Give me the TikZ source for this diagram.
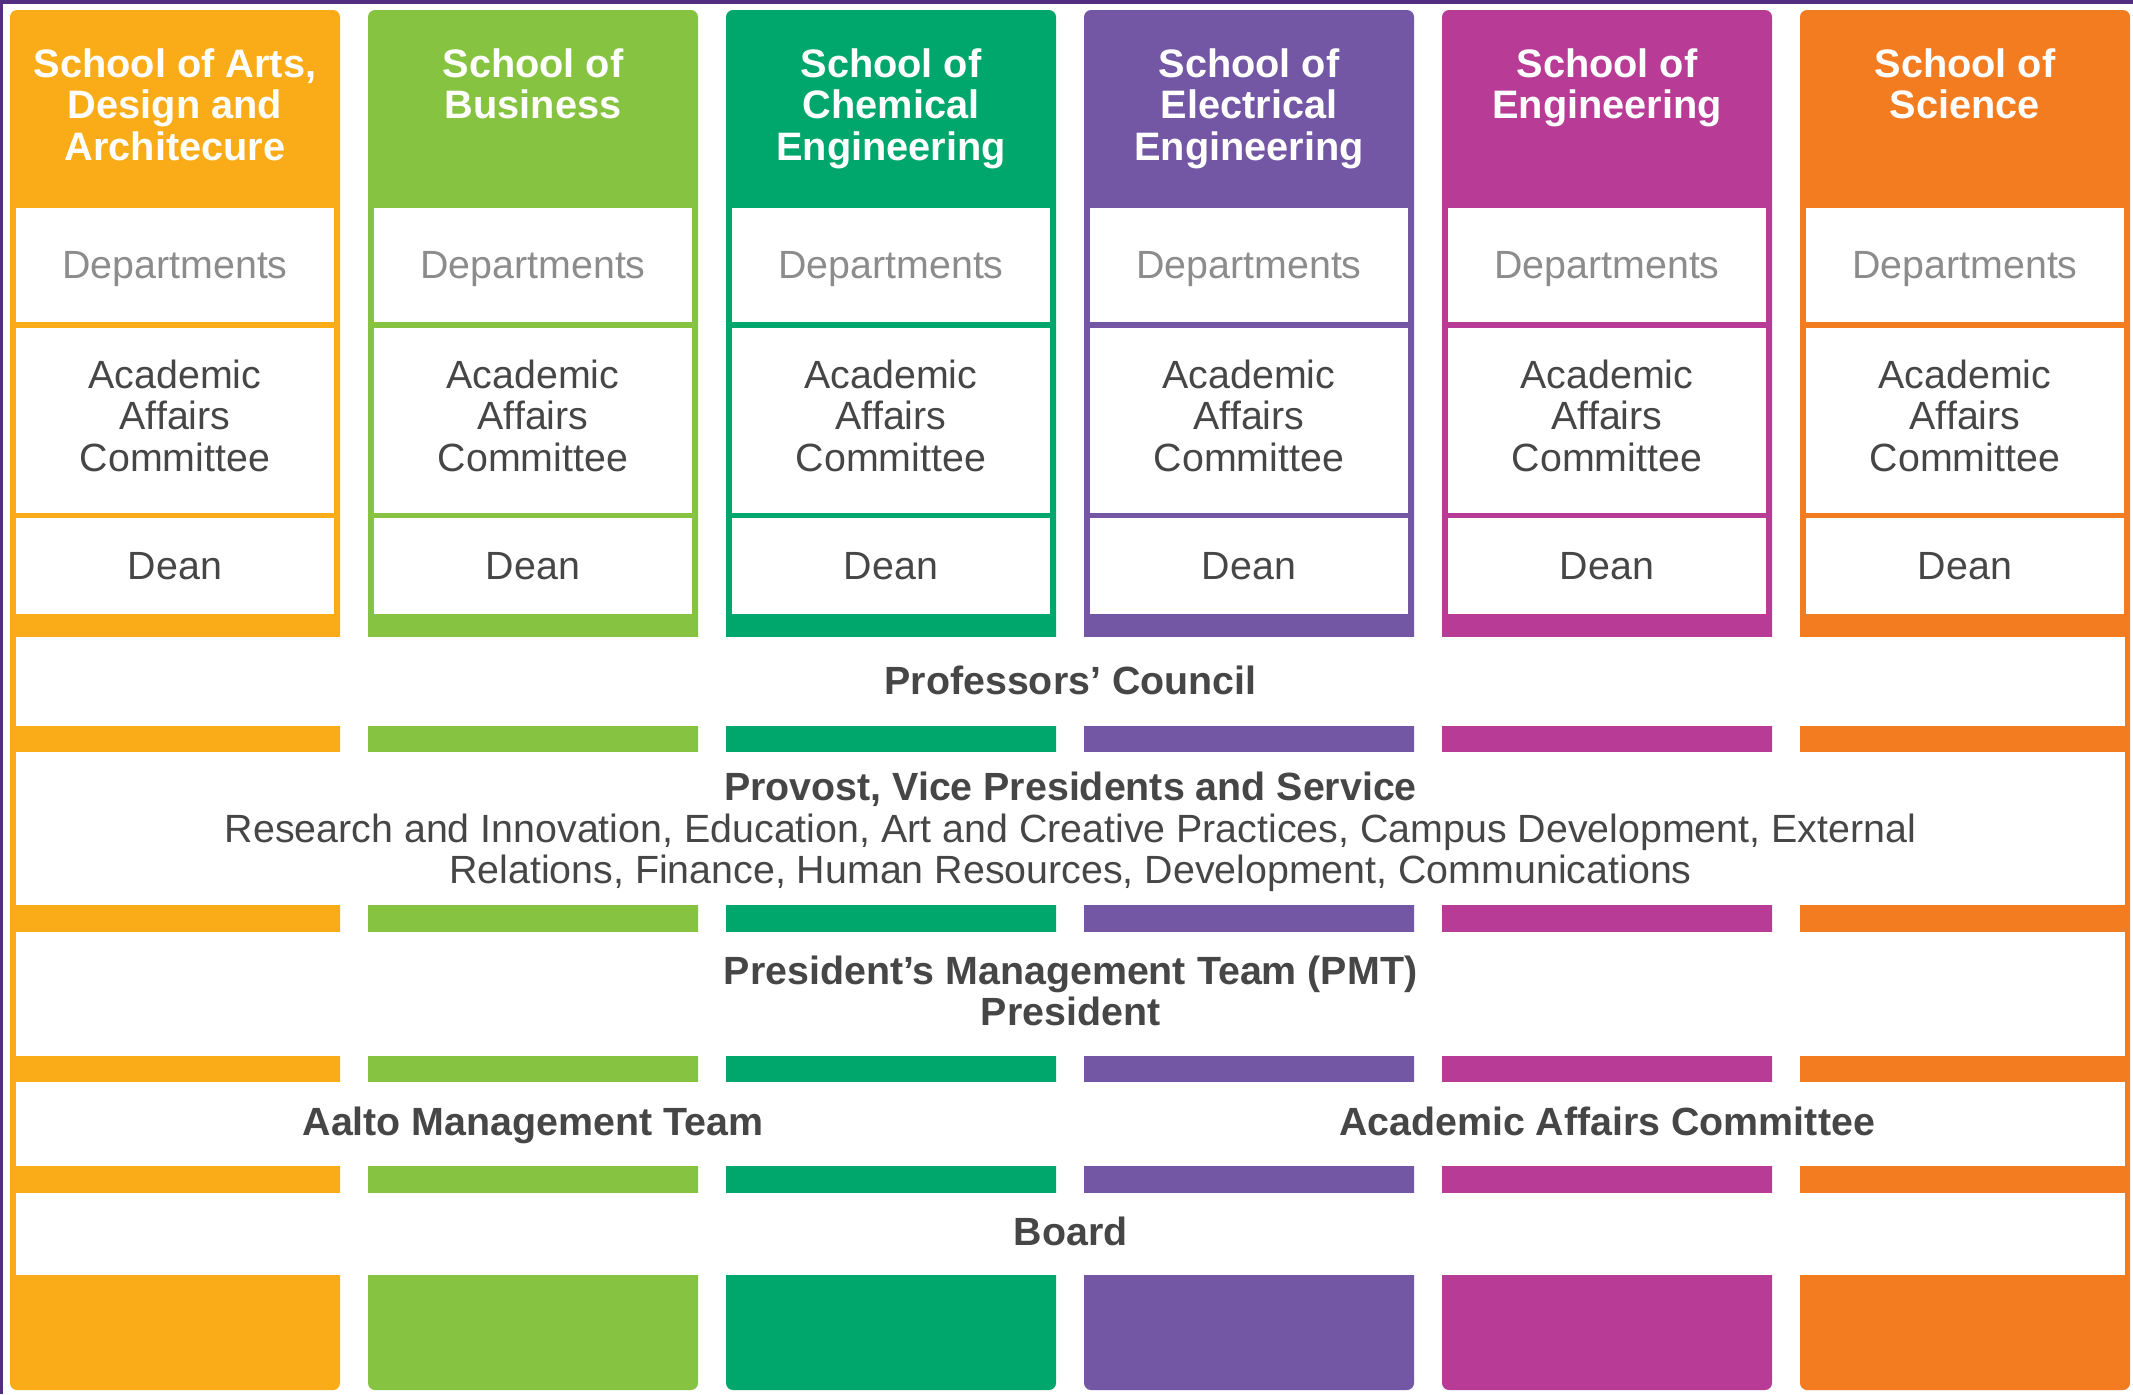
\documentclass[tikz,border=0pt]{standalone}
\usepackage{fontspec}
\setmainfont{Liberation Sans}
\usepackage{tikz}
\definecolor{arts}{RGB}{250,172,24}
\definecolor{business}{RGB}{134,195,64}
\definecolor{chem}{RGB}{0,167,108}
\definecolor{elec}{RGB}{115,87,165}
\definecolor{engi}{RGB}{184,60,150}
\definecolor{science}{RGB}{243,123,32}
\definecolor{cadre}{RGB}{82,45,128}
\definecolor{gristexte}{RGB}{70,70,70}
\definecolor{grisclair}{RGB}{140,140,140}

\begin{document}
\begin{tikzpicture}
\tikzstyle{ecole}=[anchor=north,text=white,font=\fontsize{11.3}{11.8}\selectfont\bfseries,align=center]
\tikzstyle{case}=[fill=white,minimum width=3.18cm,inner sep=0pt,align=center,text=gristexte,font=\fontsize{11.2}{11.8}\selectfont]
\tikzstyle{departements}=[case,minimum height=1.14cm,text depth=0pt,text=grisclair]
\tikzstyle{comite}=[case,minimum height=1.85cm]
\tikzstyle{doyen}=[case,minimum height=0.96cm]
\tikzstyle{bande}=[fill=white,minimum width=21.09cm,inner sep=0pt]
\tikzstyle{titre}=[text=gristexte,align=center,font=\fontsize{11.2}{11.8}\selectfont\bfseries]
\useasboundingbox (0,0) rectangle (21.33,-13.94);
\fill[white] (0,0) rectangle (21.33,-13.94);
\fill[cadre] (0,0) rectangle (21.33,-0.04);
\fill[cadre] (0,0) rectangle (0.03,-13.94);
%colonnes
\fill[arts,rounded corners=2pt] (0.10,-0.10) rectangle (3.40,-13.90);
\fill[business,rounded corners=2pt] (3.68,-0.10) rectangle (6.98,-13.90);
\fill[chem,rounded corners=2pt] (7.26,-0.10) rectangle (10.56,-13.90);
\fill[elec,rounded corners=2pt] (10.84,-0.10) rectangle (14.14,-13.90);
\fill[engi,rounded corners=2pt] (14.42,-0.10) rectangle (17.72,-13.90);
\fill[science,rounded corners=2pt] (18.00,-0.10) rectangle (21.30,-13.90);
%ecoles
\node[ecole] (e1) at (1.75,-0.36) {School of Arts,\\Design and\\Architecure};
\node[ecole] (e2) at (5.33,-0.36) {School of\\Business};
\node[ecole] (e3) at (8.91,-0.36) {School of\\Chemical\\Engineering};
\node[ecole] (e4) at (12.49,-0.36) {School of\\Electrical\\Engineering};
\node[ecole] (e5) at (16.07,-0.36) {School of\\Engineering};
\node[ecole] (e6) at (19.65,-0.36) {School of\\Science};
%cases
\node[departements] (dep1) at (1.75,-2.65) {Departments};
\node[comite] (aac1) at (1.75,-4.205) {Academic\\Affairs\\Committee\rule[-1mm]{0pt}{0pt}};
\node[doyen] (dean1) at (1.75,-5.66) {Dean};
\node[departements] (dep2) at (5.33,-2.65) {Departments};
\node[comite] (aac2) at (5.33,-4.205) {Academic\\Affairs\\Committee\rule[-1mm]{0pt}{0pt}};
\node[doyen] (dean2) at (5.33,-5.66) {Dean};
\node[departements] (dep3) at (8.91,-2.65) {Departments};
\node[comite] (aac3) at (8.91,-4.205) {Academic\\Affairs\\Committee\rule[-1mm]{0pt}{0pt}};
\node[doyen] (dean3) at (8.91,-5.66) {Dean};
\node[departements] (dep4) at (12.49,-2.65) {Departments};
\node[comite] (aac4) at (12.49,-4.205) {Academic\\Affairs\\Committee\rule[-1mm]{0pt}{0pt}};
\node[doyen] (dean4) at (12.49,-5.66) {Dean};
\node[departements] (dep5) at (16.07,-2.65) {Departments};
\node[comite] (aac5) at (16.07,-4.205) {Academic\\Affairs\\Committee\rule[-1mm]{0pt}{0pt}};
\node[doyen] (dean5) at (16.07,-5.66) {Dean};
\node[departements] (dep6) at (19.65,-2.65) {Departments};
\node[comite] (aac6) at (19.65,-4.205) {Academic\\Affairs\\Committee\rule[-1mm]{0pt}{0pt}};
\node[doyen] (dean6) at (19.65,-5.66) {Dean};
%bandes
\node[bande,minimum height=0.89cm] (prof) at (10.705,-6.815) {};
\node[titre] (prof-t) at (10.705,-6.80) {Professors' Council};
\node[bande,minimum height=1.53cm] (provost) at (10.705,-8.285) {};
\node[titre] (provost-t) at (10.705,-8.32) {Provost, Vice Presidents and Service\\\mdseries Research and Innovation, Education, Art and Creative Practices, Campus Development, External\\\mdseries Relations, Finance, Human Resources, Development, Communications};
\node[bande,minimum height=1.24cm] (pmt) at (10.705,-9.94) {};
\node[titre] (pmt-t) at (10.705,-9.91) {President's Management Team (PMT)\\President};
\node[bande,minimum height=0.84cm] (amt) at (10.705,-11.24) {};
\node[titre,anchor=base] (amt-g) at (5.33,-11.35) {Aalto Management Team};
\node[titre,anchor=base] (amt-d) at (16.07,-11.35) {Academic Affairs Committee};
\node[bande,minimum height=0.82cm] (board) at (10.705,-12.34) {};
\node[titre] (board-t) at (10.705,-12.31) {Board};
\end{tikzpicture}
\end{document}
